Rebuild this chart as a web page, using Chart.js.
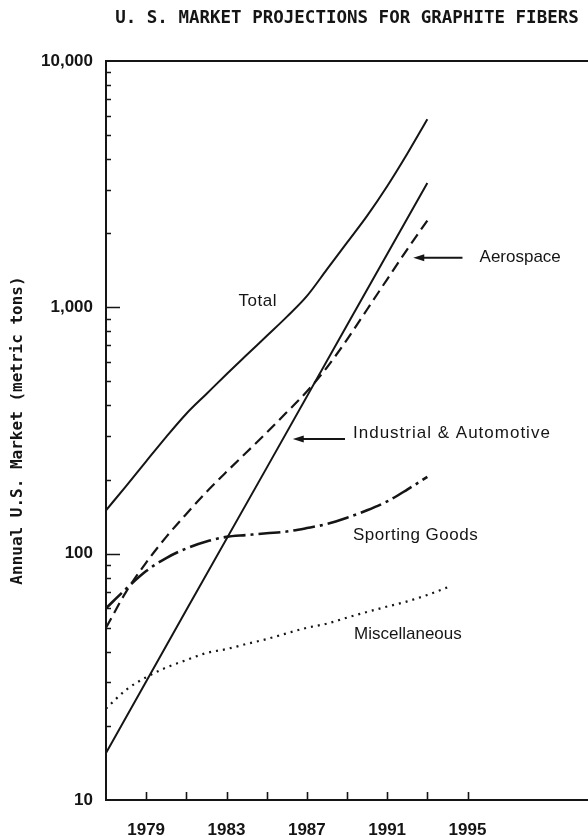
<!DOCTYPE html>
<html>
<head>
<meta charset="utf-8">
<script src="https://cdn.jsdelivr.net/npm/chart.js@4.4.1/dist/chart.umd.min.js"></script>
<style>
  html, body { margin: 0; padding: 0; background: #fff; overflow: hidden; }
  #wrap { width: 588px; height: 836px; }
</style>
</head>
<body>
<div id="wrap"><canvas id="c" width="588" height="836"></canvas></div>
<script>
// Projected U.S. graphite fiber market, metric tons per year
const years = [1977, 1978, 1979, 1980, 1981, 1982, 1983, 1984, 1985, 1986, 1987, 1988, 1989, 1990, 1991, 1992, 1993];
const totalTons     = [150, 188, 237, 298, 370, 445, 535, 640, 765, 915, 1110, 1425, 1830, 2350, 3100, 4200, 5800];
const aerospaceTons = [50, 70, 92, 117, 145, 178, 215, 258, 310, 375, 455, 570, 740, 980, 1300, 1720, 2250];
const sportingTons  = [60, 72, 85, 96, 105, 112, 117, 119, 121, 123, 127, 132, 140, 150, 163, 182, 205];

const industrialYears = [1977, 1981, 1985, 1989, 1993];
const industrialTons  = [15.5, 59, 223, 845, 3200];

const miscYears = [1977, 1978, 1979, 1980, 1981, 1982, 1983, 1984, 1985, 1986, 1987, 1988, 1989, 1990, 1991, 1992, 1993, 1994];
const miscTons  = [23.5, 28, 31.5, 34.5, 37, 39.5, 41, 43, 45, 47.5, 50, 52, 55, 58, 61, 64, 68, 73];

// Axis ticks
const xTickYears  = [1979, 1981, 1983, 1985, 1987, 1989, 1991, 1993, 1995];
const xLabelYears = [1979, 1983, 1987, 1991, 1995];
const yTickValues = [10, 20, 30, 40, 50, 60, 70, 80, 90,
                     100, 200, 300, 400, 500, 600, 700, 800, 900,
                     1000, 2000, 3000, 4000, 5000, 6000, 7000, 8000, 9000, 10000];
const yLabelValues = [10, 100, 1000, 10000];

// Curve labels and pointer arrows, placed in data units (year, tons)
const curveNotes = [
  { text: 'Total', year: 1983.6, tons: 1060, spacing: 0.5 },
  { text: 'Aerospace', year: 1995.6, tons: 1590, spacing: 0 },
  { text: 'Industrial & Automotive', year: 1989.3, tons: 309, spacing: 1 },
  { text: 'Sporting Goods', year: 1989.3, tons: 119, spacing: 0.5 },
  { text: 'Miscellaneous', year: 1989.35, tons: 47, spacing: 0 }
];
const pointerArrows = [
  { fromYear: 1994.75, toYear: 1992.3, tons: 1590 },
  { fromYear: 1988.9, toYear: 1986.3, tons: 292 }
];

const INK = '#151515';
const pts = (xs, ys) => xs.map((x, i) => ({ x: x, y: ys[i] }));

const inwardTicks = {
  id: 'inwardTicks',
  afterDatasetsDraw(chart) {
    const { ctx, chartArea, scales } = chart;
    const x = scales.x, y = scales.y;
    ctx.save();
    ctx.strokeStyle = INK;
    ctx.lineWidth = 1.6;
    ctx.beginPath();
    x.ticks.forEach(t => {
      const px = Math.round(x.getPixelForValue(t.value)) + 0.5;
      ctx.moveTo(px, chartArea.bottom);
      ctx.lineTo(px, chartArea.bottom - 8);
    });
    y.ticks.forEach(t => {
      if (t.value === 10 || t.value === 10000) return;
      const py = Math.round(y.getPixelForValue(t.value)) + 0.5;
      const len = yLabelValues.includes(t.value) ? 14 : 5;
      ctx.moveTo(chartArea.left, py);
      ctx.lineTo(chartArea.left + len, py);
    });
    ctx.stroke();
    ctx.restore();
  }
};

const curveLabels = {
  id: 'curveLabels',
  afterDatasetsDraw(chart) {
    const { ctx, scales } = chart;
    const x = scales.x, y = scales.y;
    ctx.save();
    ctx.fillStyle = INK;
    ctx.strokeStyle = INK;
    ctx.font = '17px "Liberation Sans", Arial, sans-serif';
    ctx.textAlign = 'left';
    ctx.textBaseline = 'middle';
    curveNotes.forEach(n => {
      ctx.letterSpacing = n.spacing + 'px';
      ctx.fillText(n.text, x.getPixelForValue(n.year), y.getPixelForValue(n.tons));
    });
    ctx.letterSpacing = '0px';
    pointerArrows.forEach(a => {
      const py = y.getPixelForValue(a.tons);
      const tip = x.getPixelForValue(a.toYear);
      const tail = x.getPixelForValue(a.fromYear);
      ctx.lineWidth = 2;
      ctx.beginPath();
      ctx.moveTo(tip + 9, py);
      ctx.lineTo(tail, py);
      ctx.stroke();
      ctx.beginPath();
      ctx.moveTo(tip, py);
      ctx.lineTo(tip + 11, py - 3.5);
      ctx.lineTo(tip + 11, py + 3.5);
      ctx.closePath();
      ctx.fill();
    });
    ctx.restore();
  }
};

const lineStyle = (label, data, width, dash, tension) => ({
  label: label,
  data: data,
  borderColor: INK,
  borderWidth: width,
  borderDash: dash,
  pointRadius: 0,
  fill: false,
  tension: tension,
  cubicInterpolationMode: tension ? 'monotone' : 'default'
});

new Chart(document.getElementById('c'), {
  type: 'line',
  data: {
    datasets: [
      lineStyle('Total', pts(years, totalTons), 2, [], 0.4),
      lineStyle('Aerospace', pts(years, aerospaceTons), 2.2, [11, 6], 0.4),
      lineStyle('Industrial & Automotive', pts(industrialYears, industrialTons), 2, [], 0),
      lineStyle('Sporting Goods', pts(years, sportingTons), 2.6, [22, 5, 3, 5], 0.4),
      lineStyle('Miscellaneous', pts(miscYears, miscTons), 2.2, [2, 5], 0.4)
    ]
  },
  options: {
    responsive: false,
    animation: false,
    devicePixelRatio: 1,
    layout: { padding: 0 },
    plugins: {
      legend: { display: false },
      tooltip: { enabled: false },
      title: {
        display: true,
        text: 'U. S. MARKET PROJECTIONS FOR GRAPHITE FIBERS',
        fullSize: false,
        color: INK,
        font: { family: '"DejaVu Sans Mono", monospace', size: 17.5, weight: 'bold', lineHeight: 1.2 },
        padding: { top: 8, bottom: 32 }
      }
    },
    scales: {
      x: {
        type: 'linear',
        position: 'bottom',
        min: 1977,
        max: 2001,
        grid: { display: false },
        border: { display: true, color: INK, width: 2 },
        afterBuildTicks: s => { s.ticks = xTickYears.map(v => ({ value: v })); },
        afterFit: s => { s.height = 36; },
        ticks: {
          autoSkip: false,
          maxRotation: 0,
          padding: 12,
          color: INK,
          font: { family: '"Liberation Sans", Arial, sans-serif', size: 17, weight: 'bold' },
          callback: v => xLabelYears.includes(v) ? String(v) : ''
        }
      },
      xTop: {
        type: 'linear',
        position: 'top',
        min: 1977,
        max: 2001,
        grid: { display: false },
        ticks: { display: false },
        border: { display: true, color: INK, width: 2 },
        afterFit: s => { s.height = 0; }
      },
      y: {
        type: 'logarithmic',
        min: 10,
        max: 10000,
        grid: { display: false },
        border: { display: true, color: INK, width: 2 },
        afterBuildTicks: s => { s.ticks = yTickValues.map(v => ({ value: v })); },
        afterFit: s => { s.width = 106; },
        ticks: {
          autoSkip: false,
          padding: 5,
          color: INK,
          font: { family: '"Liberation Sans", Arial, sans-serif', size: 17, weight: 'bold' },
          callback: v => yLabelValues.includes(v) ? v.toLocaleString('en-US') : ''
        },
        title: {
          display: true,
          text: 'Annual U.S. Market (metric tons)',
          color: INK,
          font: { family: '"DejaVu Sans Mono", monospace', size: 16, weight: 'bold', lineHeight: 1.2 },
          padding: { top: 8, bottom: 0 }
        }
      }
    }
  },
  plugins: [inwardTicks, curveLabels]
});
</script>
</body>
</html>
